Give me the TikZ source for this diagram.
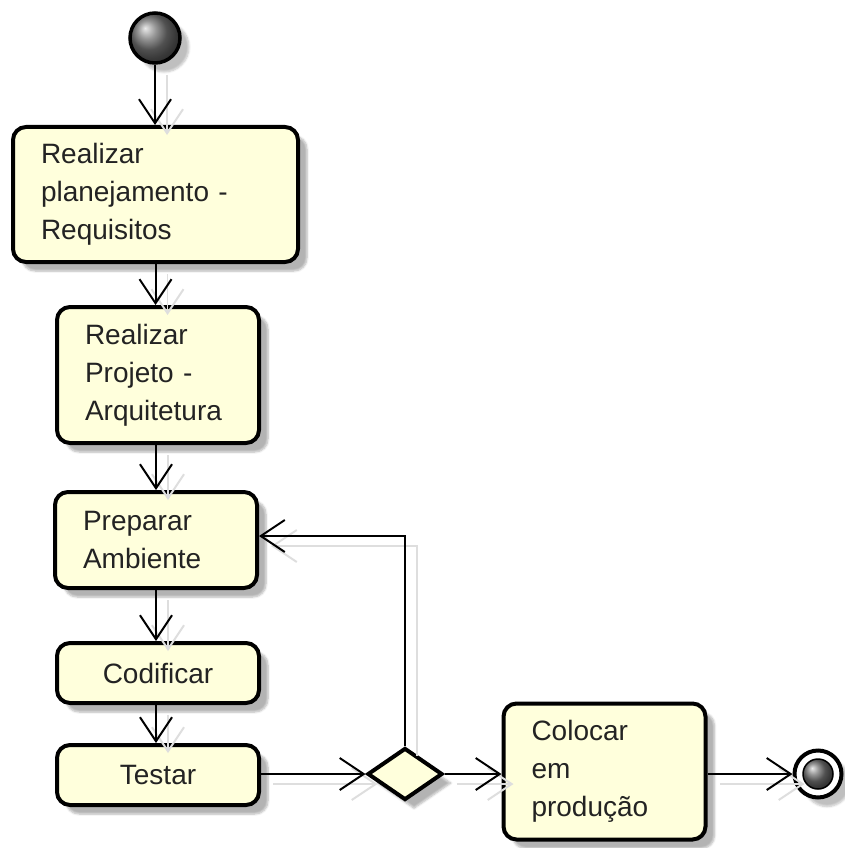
\documentclass[tikz,border=0pt]{standalone}
\usepackage{fontspec}
\setmainfont{Liberation Sans}
\usetikzlibrary{arrows.meta,shapes.geometric,shadows.blur,calc}
\definecolor{boxfill}{RGB}{255,255,220}
\definecolor{txt}{RGB}{35,35,35}
\begin{document}
\begin{tikzpicture}[x=1pt,y=-1pt,
  act/.style={draw=black, line width=4pt, rounded corners=13pt, fill=boxfill,
    font=\fontsize{28}{38}\selectfont, text=txt, inner ysep=0pt,
    blur shadow={shadow xshift=9pt, shadow yshift=-9pt, shadow opacity=30, shadow blur steps=6}},
  multi/.style={act, align=left, inner xsep=28pt},
  single/.style={act, align=center, inner xsep=0pt},
  flow/.style={draw=black, line width=2pt, -{Straight Barb[length=24pt,width=32pt,line width=2pt]},
    preaction={draw=black!13, line width=1.5pt, transform canvas={shift={(12pt,-10pt)}}}},
]
\useasboundingbox (0,0) rectangle (845,848);

% start node
\node[circle, draw=black, line width=3.5pt, minimum size=50pt, inner sep=0pt,
      ball color=black!55, shading=ball,
      blur shadow={shadow xshift=9pt, shadow yshift=-9pt, shadow opacity=25, shadow blur steps=6}] (start) at (155,38) {};

\node[multi, text width=229pt, minimum height=135pt] (b1) at (155.5,194.5)
  {Realizar\\planejamento -\\Requisitos};
\node[multi, text width=146pt, minimum height=136pt] (b2) at (158,375)
  {Realizar\\Projeto -\\Arquitetura};
\node[multi, text width=146pt, minimum height=96pt] (b3) at (156,540)
  {Preparar\\Ambiente};
\node[single, minimum width=202pt, minimum height=60pt] (b4) at (158,673)
  {Codificar};
\node[single, minimum width=202pt, minimum height=60pt] (b5) at (158,775)
  {Testar};
\node[diamond, draw=black, line width=4pt, fill=boxfill, minimum width=75pt, minimum height=52pt,
      inner sep=0pt,
      blur shadow={shadow xshift=9pt, shadow yshift=-9pt, shadow opacity=30, shadow blur steps=6}] (dec) at (405,774) {};
\node[multi, text width=146pt, minimum height=136pt] (b6) at (604.5,771.5)
  {Colocar\\em\\produção};

% final node
\node[circle, draw=black, line width=4pt, minimum size=47pt, inner sep=0pt, fill=white,
      blur shadow={shadow xshift=9pt, shadow yshift=-9pt, shadow opacity=25, shadow blur steps=6}] (final) at (818,774) {};
\node[circle, draw=black, line width=1.5pt, minimum size=30pt, inner sep=0pt,
      ball color=black!55, shading=ball] (finalin) at (final.center) {};

% connectors
\draw[flow] (start.south) -- (start.south |- b1.north);
\draw[flow] (b1.south) -- (b1.south |- b2.north);
\draw[flow] (b3.north |- b2.south) -- (b3.north);
\draw[flow] (b3.south) -- (b3.south |- b4.north);
\draw[flow] (b3.south |- b4.south) -- (b3.south |- b5.north);
\draw[flow] (b5.east |- dec.west) -- (dec.west);
\draw[flow] (dec.east) -- (dec.east -| b6.west);
\coordinate (loop) at (dec.north |- 0,536);
\draw[flow] (dec.north) -- (loop) -- (loop -| b3.east);
\draw[flow] (b6.east |- final.west) -- (final.west);
\end{tikzpicture}
\end{document}
